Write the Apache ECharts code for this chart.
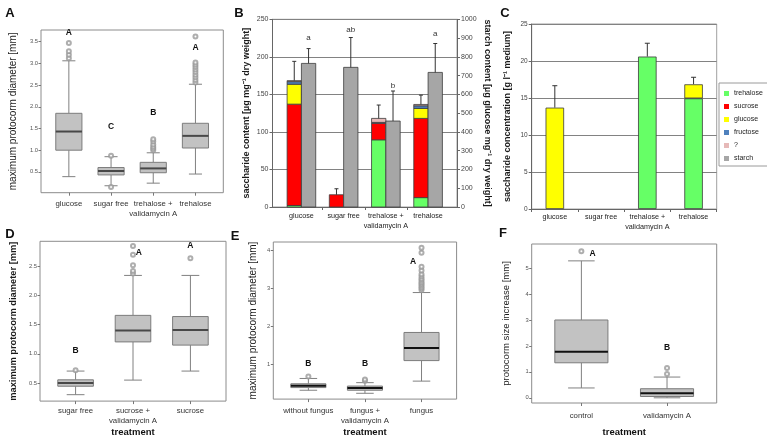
<!DOCTYPE html>
<html>
<head>
<meta charset="utf-8">
<script src="https://cdn.jsdelivr.net/npm/echarts@6/dist/echarts.min.js"></script>
<style>
  html, body { margin: 0; padding: 0; background: #fff; }
  #main { width: 767px; height: 438px; }
</style>
</head>
<body>
<div id="main"></div>
<script>
var FONT = '"Liberation Sans", Arial, Helvetica, sans-serif';

// ---- A: protocorm diameter on different sugars
var aNames = ['glucose', 'sugar free', 'trehalose +\nvalidamycin A', 'trehalose'];
var aLow = [0.39, 0.18, 0.24, 0.45];
var aQ1 = [1.00, 0.43, 0.48, 1.05];
var aMed = [1.43, 0.52, 0.58, 1.33];
var aQ3 = [1.85, 0.60, 0.72, 1.62];
var aHigh = [3.06, 0.85, 0.94, 2.52];
var aOut = [[3.12, 3.20, 3.28, 3.47], [0.87, 0.15], [1.00, 1.04, 1.08, 1.13, 1.20, 1.25],
            [2.56, 2.62, 2.68, 2.74, 2.80, 2.86, 2.92, 2.97, 3.02, 3.62]];
var aLetters = ['A', 'C', 'B', 'A'];
var aLetterY = [3.70, 1.54, 1.86, 3.36];
var aTicks = [0.5, 1.0, 1.5, 2.0, 2.5, 3.0, 3.5];

// ---- B: saccharide / starch content
var bNames = ['glucose', 'sugar free', 'trehalose +\nvalidamycin A', 'trehalose'];
var bTrehalose = [2, 0, 89.5, 12.5];
var bSucrose = [135, 16.3, 22, 105.5];
var bGlucose = [26.5, 0, 0, 13.3];
var bFructose = [3.5, 0, 1.2, 3.5];
var bUnknown = [1.3, 0, 5.3, 1.8];
var bSugarErrTop = [194, 24.3, 135.8, 149];
var bStarch = [765, 744, 458, 717];
var bStarchErrTop = [844, 903, 618, 871];
var bLetters = ['a', 'ab', 'b', 'a'];
var bLetterY = [903, 945, 644, 924];

// ---- C: saccharide concentration in medium
var cNames = ['glucose', 'sugar free', 'trehalose +\nvalidamycin A', 'trehalose'];
var cTrehalose = [null, null, 20.6, 14.95];
var cGlucose = [13.7, null, null, 1.9];
var cErrTop = [16.66, null, 22.4, 17.8];

// ---- D: sucrose + validamycin
var dNames = ['sugar free', 'sucrose +\nvalidamycin A', 'sucrose'];
var dLow = [0.30, 0.55, 0.705];
var dQ1 = [0.445, 1.205, 1.15];
var dMed = [0.50, 1.40, 1.41];
var dQ3 = [0.555, 1.66, 1.64];
var dHigh = [0.705, 2.345, 2.345];
var dOut = [[0.72], [2.38, 2.42, 2.52, 2.70, 2.85], [2.64]];
var dLetters = ['B', 'A', 'A'];
var dLetterY = [1.06, 2.74, 2.86];
var dLetterDx = [0, 0.1, 0];
var dTicks = [0.5, 1.0, 1.5, 2.0, 2.5];

// ---- E: fungus treatments
var eNames = ['without fungus', 'fungus +\nvalidamycin A', 'fungus'];
var eLow = [0.32, 0.24, 0.56];
var eQ1 = [0.39, 0.32, 1.10];
var eMed = [0.44, 0.38, 1.43];
var eQ3 = [0.49, 0.43, 1.84];
var eHigh = [0.63, 0.52, 2.89];
var eOut = [[0.68], [0.57, 0.60],
            [2.96, 3.00, 3.04, 3.09, 3.13, 3.17, 3.22, 3.26, 3.32, 3.37, 3.47, 3.57, 3.94, 4.07]];
var eLetters = ['B', 'B', 'A'];
var eLetterY = [1.02, 1.02, 3.71];
var eLetterDx = [0, 0, -0.15];
var eTicks = [1, 2, 3, 4];

// ---- F: size increase
var fNames = ['control', 'validamycin A'];
var fLow = [0.38, 0.0];
var fQ1 = [1.35, 0.05];
var fMed = [1.78, 0.18];
var fQ3 = [3.00, 0.35];
var fHigh = [5.28, 0.80];
var fOut = [[5.65], [0.92, 1.15]];
var fLetters = ['A', 'B'];
var fLetterY = [5.57, 1.95];
var fLetterDx = [0.13, 0];
var fTicks = [0, 1, 2, 3, 4, 5];

var grids = [], xAxes = [], yAxes = [], series = [];

function line(x1, y1, x2, y2, c, lw) {
    return { type: 'line', shape: { x1: x1, y1: y1, x2: x2, y2: y2 }, style: { stroke: c, lineWidth: lw } };
}

// box + whiskers, data item = [x, low, q1, med, q3, high]
function boxItem(boxW, medColor, whisk) {
    return function (params, api) {
        var x = api.value(0);
        var w = api.size([boxW, 0])[0];
        var pL = api.coord([x, api.value(1)]), p1 = api.coord([x, api.value(2)]);
        var pM = api.coord([x, api.value(3)]), p3 = api.coord([x, api.value(4)]);
        var pH = api.coord([x, api.value(5)]);
        var cx = pL[0], cap = w / 4;
        return {
            type: 'group', children: [
                line(cx, pL[1], cx, p1[1], whisk, 1),
                line(cx, p3[1], cx, pH[1], whisk, 1),
                line(cx - cap, pL[1], cx + cap, pL[1], whisk, 1),
                line(cx - cap, pH[1], cx + cap, pH[1], whisk, 1),
                { type: 'rect', shape: { x: cx - w / 2, y: p3[1], width: w, height: p1[1] - p3[1] },
                  style: { fill: '#c2c2c2', stroke: '#7c7c7c', lineWidth: 1 } },
                line(cx - w / 2, pM[1], cx + w / 2, pM[1], medColor, 2)
            ]
        };
    };
}

// bar segment, data item = [x, from, to]
function rectItem(barW, color) {
    return function (params, api) {
        var x = api.value(0), lo = api.value(1), hi = api.value(2);
        if (!(hi > lo)) return null;
        var p0 = api.coord([x, lo]), p1 = api.coord([x, hi]);
        var w = api.size([barW, 0])[0];
        return { type: 'rect', shape: { x: p0[0] - w / 2, y: p1[1], width: w, height: p0[1] - p1[1] },
                 style: { fill: color, stroke: '#3c3c3c', lineWidth: 0.8 } };
    };
}

// upper error bar, data item = [x, top of bar, top of error]
function errItem(capW) {
    return function (params, api) {
        var p0 = api.coord([api.value(0), api.value(1)]), p1 = api.coord([api.value(0), api.value(2)]);
        return { type: 'group', children: [
            line(p0[0], p0[1], p1[0], p1[1], '#333', 1),
            line(p1[0] - capW / 2, p1[1], p1[0] + capW / 2, p1[1], '#333', 1)
        ] };
    };
}

function textItem(texts, font, color) {
    return function (params, api) {
        var p = api.coord([api.value(0), api.value(1)]);
        return { type: 'text', x: p[0], y: p[1],
                 style: { text: texts[params.dataIndex], font: font, fill: color,
                          align: 'center', verticalAlign: 'middle', textAlign: 'center', textVerticalAlign: 'middle' } };
    };
}

function addBoxPanel(p) {
    var gi = grids.length, xi = xAxes.length, yi = yAxes.length;
    grids.push({ left: p.box[0], top: p.box[1], width: p.box[2], height: p.box[3],
                 show: true, borderColor: '#8c8c8c', borderWidth: 1 });
    var pos = p.names.map(function (n, i) { return i + 1; });
    xAxes.push({
        gridIndex: gi, type: 'value', min: p.xRange[0], max: p.xRange[1],
        axisLine: { show: false, onZero: false }, splitLine: { show: false },
        axisTick: { customValues: pos, length: 3, lineStyle: { color: '#777' } },
        axisLabel: { customValues: pos, formatter: function (v) { return p.names[Math.round(v) - 1]; },
                     fontFamily: FONT, fontSize: 7.8, color: '#333', margin: p.labelMargin, lineHeight: 10 },
        name: p.xName || '', nameLocation: 'middle', nameGap: p.xNameGap || 0,
        nameTextStyle: { fontFamily: FONT, fontSize: 9.5, fontWeight: 'bold', color: '#111' }
    });
    yAxes.push({
        gridIndex: gi, type: 'value', min: p.yRange[0], max: p.yRange[1],
        axisLine: { show: false, onZero: false }, splitLine: { show: false },
        axisTick: { customValues: p.ticks, length: 2.5, lineStyle: { color: '#777' } },
        axisLabel: { customValues: p.ticks, formatter: function (v) { return v.toFixed(p.dec); },
                     fontFamily: FONT, fontSize: 5.8, color: '#555', margin: 3 },
        name: p.yName, nameLocation: 'middle', nameGap: p.yNameGap,
        nameTextStyle: { fontFamily: FONT, fontSize: p.yNameSize, fontWeight: p.yNameWeight, color: '#1a1a1a' }
    });
    series.push({
        type: 'custom', xAxisIndex: xi, yAxisIndex: yi, silent: true,
        renderItem: boxItem(0.62, p.medColor, '#808080'),
        data: pos.map(function (x, i) { return [x, p.low[i], p.q1[i], p.med[i], p.q3[i], p.high[i]]; })
    });
    var outs = [];
    p.out.forEach(function (list, i) { list.forEach(function (v) { outs.push([i + 1, v]); }); });
    series.push({
        type: 'scatter', xAxisIndex: xi, yAxisIndex: yi, silent: true,
        symbol: 'emptyCircle', symbolSize: 4,
        itemStyle: { color: '#9a9a9a', borderColor: '#9a9a9a', borderWidth: 0.8 },
        data: outs
    });
    series.push({
        type: 'custom', xAxisIndex: xi, yAxisIndex: yi, silent: true,
        renderItem: textItem(p.letters, 'bold 8.5px ' + FONT, '#111'),
        data: pos.map(function (x, i) { return [x + (p.letterDx ? p.letterDx[i] : 0), p.letterY[i]]; })
    });
}

addBoxPanel({
    box: [41, 30, 182.3, 162.7], xRange: [0.34, 4.66], yRange: [0.02, 3.77],
    names: aNames, low: aLow, q1: aQ1, med: aMed, q3: aQ3, high: aHigh, out: aOut,
    letters: aLetters, letterY: aLetterY, ticks: aTicks, dec: 1, labelMargin: 6,
    yName: 'maximum protocorm diameter [mm]', yNameGap: 23, yNameSize: 10, yNameWeight: 'normal',
    medColor: '#484848'
});
addBoxPanel({
    box: [40, 241.3, 186, 164.4], xRange: [0.38, 3.62], yRange: [0.19, 2.93],
    names: dNames, low: dLow, q1: dQ1, med: dMed, q3: dQ3, high: dHigh, out: dOut,
    letters: dLetters, letterY: dLetterY, letterDx: dLetterDx, ticks: dTicks, dec: 1, labelMargin: 5,
    xName: 'treatment', xNameGap: 22,
    yName: 'maximum protocorm diameter [mm]', yNameGap: 22, yNameSize: 9.3, yNameWeight: 'bold',
    medColor: '#484848'
});
addBoxPanel({
    box: [273.3, 242, 183.3, 161.7], xRange: [0.38, 3.62], yRange: [0.087, 4.22],
    names: eNames, low: eLow, q1: eQ1, med: eMed, q3: eQ3, high: eHigh, out: eOut,
    letters: eLetters, letterY: eLetterY, letterDx: eLetterDx, ticks: eTicks, dec: 0, labelMargin: 7,
    xName: 'treatment', xNameGap: 25,
    yName: 'maximum protocorm diameter [mm]', yNameGap: 15, yNameSize: 10, yNameWeight: 'normal',
    medColor: '#111'
});
addBoxPanel({
    box: [531.7, 244, 185, 159.7], xRange: [0.42, 2.58], yRange: [-0.2, 5.93],
    names: fNames, low: fLow, q1: fQ1, med: fMed, q3: fQ3, high: fHigh, out: fOut,
    letters: fLetters, letterY: fLetterY, letterDx: fLetterDx, ticks: fTicks, dec: 0, labelMargin: 8,
    xName: 'treatment', xNameGap: 24,
    yName: 'protocorm size increase [mm]', yNameGap: 20, yNameSize: 9.5, yNameWeight: 'normal',
    medColor: '#111'
});

// ---- panel B (Excel style, two y axes)
var B_BAR = 0.339, B_OFF = B_BAR / 2;
var bg = grids.length, bx = xAxes.length, byL = yAxes.length, byR = byL + 1;
grids.push({ left: 272.5, top: 19.3, width: 184.5, height: 187.7, show: true, borderColor: '#a0a0a0', borderWidth: 1 });
xAxes.push({
    gridIndex: bg, type: 'value', min: 0.315, max: 4.685,
    axisLine: { show: true, onZero: false, lineStyle: { color: '#666' } }, splitLine: { show: false },
    axisTick: { customValues: [1.5, 2.5, 3.5], length: 3, lineStyle: { color: '#666' } },
    axisLabel: { customValues: [1, 2, 3, 4], formatter: function (v) { return bNames[Math.round(v) - 1]; },
                 fontFamily: FONT, fontSize: 7.2, color: '#222', margin: 4, lineHeight: 10 }
});
yAxes.push({
    gridIndex: bg, type: 'value', min: 0, max: 250, interval: 50,
    axisLine: { show: true, onZero: false, lineStyle: { color: '#666' } },
    axisTick: { show: true, length: 3, lineStyle: { color: '#666' } },
    axisLabel: { fontFamily: FONT, fontSize: 7, color: '#444', margin: 4 },
    splitLine: { show: true, lineStyle: { color: '#828282', width: 1.2 } },
    name: 'saccharide content [\u00b5g mg\u207b\u00b9 dry weight]', nameLocation: 'middle', nameGap: 21,
    nameTextStyle: { fontFamily: FONT, fontSize: 9, fontWeight: 'bold', color: '#1a1a1a' }
});
yAxes.push({
    gridIndex: bg, type: 'value', position: 'right', min: 0, max: 1000, interval: 100,
    axisLine: { show: true, onZero: false, lineStyle: { color: '#666' } },
    axisTick: { show: true, length: 3, lineStyle: { color: '#666' } },
    axisLabel: { fontFamily: FONT, fontSize: 7, color: '#444', margin: 4,
                 formatter: function (v) { return String(v); } },
    splitLine: { show: false },
    name: 'starch content [\u00b5g glucose mg\u207b\u00b9 dry weight]', nameLocation: 'middle', nameGap: 26, nameRotate: -90,
    nameTextStyle: { fontFamily: FONT, fontSize: 9, fontWeight: 'bold', color: '#1a1a1a' }
});

var sugarCols = [
    ['trehalose', bTrehalose, '#66ff66'],
    ['sucrose', bSucrose, '#ff0000'],
    ['glucose', bGlucose, '#ffff00'],
    ['fructose', bFructose, '#4f81bd'],
    ['?', bUnknown, '#e6b9b8']
];
var bBase = bNames.map(function () { return 0; });
sugarCols.forEach(function (s) {
    var data = s[1].map(function (v, i) {
        var d = [i + 1 - B_OFF, bBase[i], bBase[i] + v];
        bBase[i] += v;
        return d;
    });
    series.push({ type: 'custom', name: s[0], xAxisIndex: bx, yAxisIndex: byL, silent: true,
                  itemStyle: { color: s[2] }, renderItem: rectItem(B_BAR, s[2]), data: data });
});
series.push({ type: 'custom', name: 'starch', xAxisIndex: bx, yAxisIndex: byR, silent: true,
              itemStyle: { color: '#a6a6a6' }, renderItem: rectItem(B_BAR, '#a6a6a6'),
              data: bStarch.map(function (v, i) { return [i + 1 + B_OFF, 0, v]; }) });
series.push({ type: 'custom', xAxisIndex: bx, yAxisIndex: byL, silent: true, renderItem: errItem(4),
              data: bSugarErrTop.map(function (v, i) { return [i + 1 - B_OFF, bBase[i], v]; }) });
series.push({ type: 'custom', xAxisIndex: bx, yAxisIndex: byR, silent: true, renderItem: errItem(4),
              data: bStarchErrTop.map(function (v, i) { return [i + 1 + B_OFF, bStarch[i], v]; }) });
series.push({ type: 'custom', xAxisIndex: bx, yAxisIndex: byR, silent: true,
              renderItem: textItem(bLetters, '8px ' + FONT, '#333'),
              data: bLetterY.map(function (v, i) { return [i + 1 + B_OFF, v]; }) });

// ---- panel C (category axis, stacked bars)
var cg = grids.length, cx = xAxes.length, cy = yAxes.length;
grids.push({ left: 531.7, top: 24, width: 185, height: 185, show: true, borderColor: '#a0a0a0', borderWidth: 1 });
xAxes.push({
    gridIndex: cg, type: 'category', data: cNames,
    axisLine: { show: true, onZero: false, lineStyle: { color: '#666' } },
    axisTick: { show: true, length: 3, lineStyle: { color: '#666' } },
    axisLabel: { interval: 0, fontFamily: FONT, fontSize: 7.2, color: '#222', margin: 3, lineHeight: 10 }
});
yAxes.push({
    gridIndex: cg, type: 'value', min: 0, max: 25, interval: 5,
    axisLine: { show: true, onZero: false, lineStyle: { color: '#666' } },
    axisTick: { show: true, length: 3, lineStyle: { color: '#666' } },
    axisLabel: { fontFamily: FONT, fontSize: 6.5, color: '#444', margin: 4 },
    splitLine: { show: true, lineStyle: { color: '#828282', width: 1.2 } },
    name: 'saccharide concentration [g l\u207b\u00b9 medium]', nameLocation: 'middle', nameGap: 20,
    nameTextStyle: { fontFamily: FONT, fontSize: 9, fontWeight: 'bold', color: '#1a1a1a' }
});
series.push({ type: 'bar', name: 'trehalose', stack: 'medium', xAxisIndex: cx, yAxisIndex: cy, silent: true,
              barWidth: 18.5, itemStyle: { color: '#66ff66', borderColor: '#3c3c3c', borderWidth: 0.8 },
              data: cTrehalose });
series.push({ type: 'bar', name: 'glucose', stack: 'medium', xAxisIndex: cx, yAxisIndex: cy, silent: true,
              barWidth: 18.5, itemStyle: { color: '#ffff00', borderColor: '#3c3c3c', borderWidth: 0.8 },
              data: cGlucose });
var cErr = [];
cErrTop.forEach(function (v, i) {
    if (v !== null) cErr.push([i, (cTrehalose[i] || 0) + (cGlucose[i] || 0), v]);
});
series.push({ type: 'custom', xAxisIndex: cx, yAxisIndex: cy, silent: true, renderItem: errItem(5), data: cErr });

var panelLetters = [['A', 10, 13], ['B', 239, 13], ['C', 505, 13], ['D', 10, 234], ['E', 235, 236], ['F', 503, 233]];

var chart = echarts.init(document.getElementById('main'));
chart.setOption({
    animation: false,
    backgroundColor: '#fff',
    grid: grids,
    xAxis: xAxes,
    yAxis: yAxes,
    legend: {
        left: 719, top: 83, orient: 'vertical', icon: 'rect', selectedMode: false,
        data: ['trehalose', 'sucrose', 'glucose', 'fructose', '?', 'starch'],
        itemWidth: 5, itemHeight: 5, itemGap: 6, padding: [7, 6, 4, 5],
        borderColor: '#9a9a9a', borderWidth: 1, itemStyle: { borderWidth: 0 },
        textStyle: { fontFamily: FONT, fontSize: 7, color: '#222' }
    },
    graphic: panelLetters.map(function (l) {
        return { type: 'text', x: l[1], y: l[2], silent: true,
                 style: { text: l[0], font: 'bold 13px ' + FONT, fill: '#111',
                          align: 'center', verticalAlign: 'middle', textAlign: 'center', textVerticalAlign: 'middle' } };
    }),
    series: series
});
</script>
</body>
</html>
